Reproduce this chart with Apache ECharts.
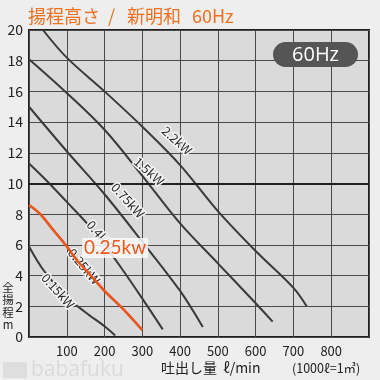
<!DOCTYPE html>
<html><head><meta charset="utf-8">
<script src="https://cdn.jsdelivr.net/npm/echarts@6/dist/echarts.min.js"></script>
<style>html,body{margin:0;padding:0;background:#eeeeee}#c{width:380px;height:380px}</style>
</head><body><div id="c"></div>
<script>
var xTicks = [0,100,200,300,400,500,600,700,800,900];
var yTicks = [0,2,4,6,8,10,12,14,16,18,20];
var s22  = [[37,20],[100,18.2],[200,16.0],[300,13.7],[400,11.2],[500,8.2],[600,5.6],[700,3.2],[735,2.0]];
var s15  = [[0,18.1],[100,15.9],[200,13.5],[300,10.5],[400,7.4],[500,4.8],[600,2.2],[645,1.0]];
var s075 = [[0,15.0],[100,12.1],[200,9.3],[300,6.2],[400,3.0],[460,0.65]];
var s04  = [[0,11.3],[50,10.1],[100,8.8],[150,7.5],[200,6.0],[250,4.3],[300,2.5],[354,0.5]];
var s025 = [[0,8.6],[30,8.0],[60,7.1],[100,5.9],[130,4.9],[160,4.1],[200,3.0],[250,1.8],[300,0.45]];
var s015 = [[0,5.9],[40,4.3],[100,2.6],[150,1.6],[200,0.7],[228,0.1]];
var seriesNames = ['2.2kW','1.5kW','0.75kW','0.4kW','0.25kW','0.15kW'];
var labelAnchors = [[392,12.8],[318,10.8],[262,8.9],[190,6.6],[146,4.6],[77,3.0]];
var labelRot = [-42,-42,-48,-50,-50,-48];

var chart = echarts.init(document.getElementById('c'));
var font = '"Noto Sans CJK JP","Noto Sans",sans-serif';
function line(name, data, color, w, z){
  return {name:name,type:'line',data:data,smooth:0.35,symbol:'none',z:z,
    lineStyle:{color:color,width:w},silent:true};
}
var series = [
  line('2.2kW', s22, '#3a3a3a', 2, 3),
  line('1.5kW', s15, '#3a3a3a', 2, 3),
  line('0.75kW', s075, '#3a3a3a', 2, 3),
  line('0.4kW', s04, '#3a3a3a', 2, 3),
  line('0.25kW gray', s025, '#3a3a3a', 2, 3),
  line('0.15kW', s015, '#3a3a3a', 2, 3)
];
series[0].markLine = {silent:true,symbol:'none',label:{show:false},
  lineStyle:{color:'#222',width:2,type:'solid'},data:[{yAxis:10}]};
var opt = {
  animation:false,
  backgroundColor:'#eeeeee',
  grid:{left:29,right:11,top:30,bottom:43,show:true,backgroundColor:'#dadada',borderColor:'#1e1e1e',borderWidth:2},
  xAxis:{type:'value',min:0,max:900,interval:100,
    axisLine:{show:false},axisTick:{show:false},
    splitLine:{show:true,lineStyle:{color:'#4a4a4a',width:1}},
    axisLabel:{color:'#222',fontSize:13,margin:8,fontFamily:font,
      formatter:function(v){return (v===0||v===900)?'':String(v);}}},
  yAxis:{type:'value',min:0,max:20,interval:2,
    axisLine:{show:false},axisTick:{show:false},
    splitLine:{show:true,lineStyle:{color:'#4a4a4a',width:1}},
    axisLabel:{color:'#222',fontSize:14,margin:6,fontFamily:font}},
  series:series.concat([
    {name:'0.25kW',type:'line',data:s025,smooth:0.35,symbol:'none',z:6,
     lineStyle:{color:'#f0561a',width:2.5},silent:true}
  ])
};
chart.setOption(opt);

var g = [];
for (var i=0;i<seriesNames.length;i++){
  var p = chart.convertToPixel({gridIndex:0}, labelAnchors[i]);
  g.push({type:'text',x:p[0],y:p[1],rotation:labelRot[i]*Math.PI/180,z:5,
    style:{text:seriesNames[i],fill:'#2a2a2a',font:'12.5px '+font,
      align:'center',verticalAlign:'middle',stroke:'#f4f4f4',lineWidth:3}});
}
var bp = chart.convertToPixel({gridIndex:0},[228,5.8]);
g.push({type:'rect',x:bp[0]-33,y:bp[1]-10,z:7,shape:{width:66,height:20},style:{fill:'rgba(250,250,250,0.85)'}});
g.push({type:'text',x:bp[0],y:bp[1],z:8,style:{text:'0.25kw',fill:'#f0561a',font:'19px Lato,"Open Sans",sans-serif',align:'center',verticalAlign:'middle'}});
g.push({type:'rect',x:273,y:42,z:9,shape:{width:85,height:25,r:12.5},style:{fill:'#555'}});
g.push({type:'text',x:315.5,y:55,z:10,style:{text:'60Hz',fill:'#fff',font:'20px "Open Sans",sans-serif',align:'center',verticalAlign:'middle'}});
var tf = '18px '+font, tc = '#f07020';
g.push({type:'text',x:28,y:16,style:{text:'揚程高さ',fill:tc,font:tf,verticalAlign:'middle'}});
g.push({type:'text',x:108,y:16,style:{text:'/',fill:tc,font:tf,verticalAlign:'middle'}});
g.push({type:'text',x:127,y:16,style:{text:'新明和',fill:tc,font:tf,verticalAlign:'middle'}});
g.push({type:'text',x:192,y:16,style:{text:'60Hz',fill:tc,font:tf,verticalAlign:'middle'}});
g.push({type:'text',x:8,y:306,style:{text:'全\n揚\n程\nm',fill:'#222',font:'11.5px '+font,align:'center',verticalAlign:'middle',lineHeight:12.5}});
g.push({type:'text',x:161,y:368,style:{text:'吐出し量  ℓ/min',fill:'#222',font:'14px '+font,verticalAlign:'middle'}});
g.push({type:'text',x:292,y:368,style:{text:'(1000ℓ=1㎥)',fill:'#222',font:'12.5px '+font,verticalAlign:'middle'}});
g.push({type:'rect',x:3,y:362,shape:{width:24,height:16},style:{fill:'#dedede'}});
g.push({type:'text',x:31,y:370,style:{text:'babafuku',fill:'#dadada',font:'21px "Open Sans",sans-serif',verticalAlign:'middle'}});
chart.setOption({graphic:g});
</script></body></html>
